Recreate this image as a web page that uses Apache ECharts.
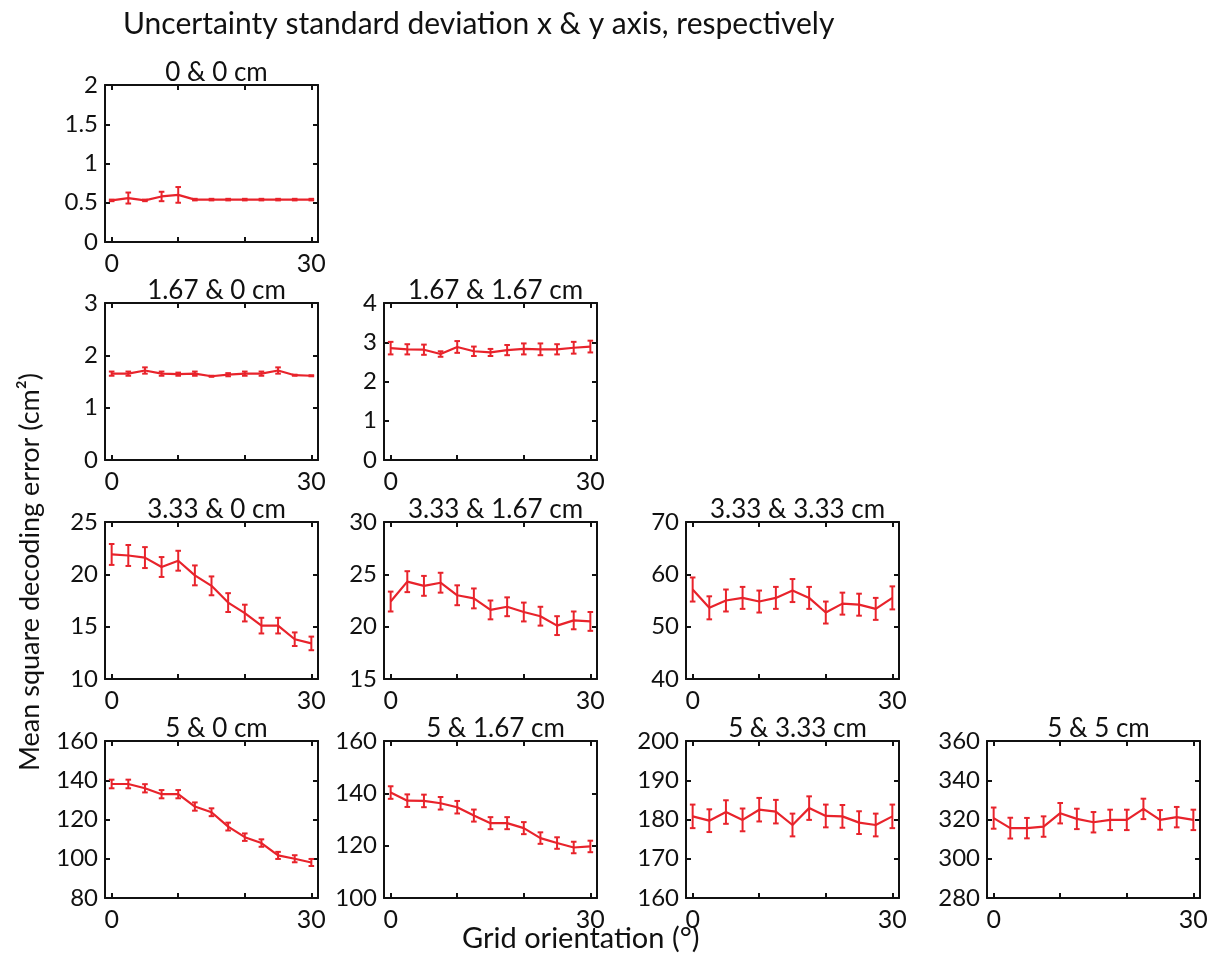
<!DOCTYPE html>
<html>
<head>
<meta charset="utf-8">
<script src="https://cdn.jsdelivr.net/npm/echarts@6/dist/echarts.min.js"></script>
<style>
html,body{margin:0;padding:0;background:#fff;}
#chart{width:1218px;height:978px;}
</style>
</head>
<body>
<div id="chart"></div>
<script>
// ---- Data ----
const orientations = [0, 2.5, 5, 7.5, 10, 12.5, 15, 17.5, 20, 22.5, 25, 27.5, 30];
const xTickValues = [0, 10, 20, 30];
const xTickLabels = [0, 30];

const panelTitles = ['0 & 0 cm', '1.67 & 0 cm', '1.67 & 1.67 cm', '3.33 & 0 cm', '3.33 & 1.67 cm',
  '3.33 & 3.33 cm', '5 & 0 cm', '5 & 1.67 cm', '5 & 3.33 cm', '5 & 5 cm'];

const mean_0_0 = [0.53, 0.56, 0.53, 0.58, 0.60, 0.54, 0.54, 0.54, 0.54, 0.54, 0.54, 0.54, 0.54];
const err_0_0  = [0.01, 0.07, 0.01, 0.06, 0.10, 0.01, 0.01, 0.01, 0.01, 0.01, 0.01, 0.01, 0.01];

const mean_167_0 = [1.65, 1.65, 1.71, 1.65, 1.64, 1.65, 1.60, 1.63, 1.65, 1.65, 1.71, 1.62, 1.61];
const err_167_0  = [0.04, 0.04, 0.06, 0.04, 0.03, 0.04, 0.01, 0.03, 0.04, 0.04, 0.06, 0.01, 0.01];

const mean_167_167 = [2.85, 2.82, 2.81, 2.70, 2.88, 2.77, 2.74, 2.80, 2.83, 2.82, 2.82, 2.86, 2.89];
const err_167_167  = [0.16, 0.13, 0.13, 0.07, 0.15, 0.12, 0.09, 0.13, 0.14, 0.15, 0.13, 0.15, 0.15];

const mean_333_0 = [21.9, 21.8, 21.6, 20.7, 21.3, 19.9, 18.9, 17.3, 16.3, 15.1, 15.1, 13.8, 13.4];
const err_333_0  = [1.0, 1.0, 1.0, 0.95, 0.95, 0.95, 0.9, 0.9, 0.8, 0.75, 0.75, 0.65, 0.65];

const mean_333_167 = [22.4, 24.3, 23.9, 24.2, 23.0, 22.7, 21.6, 21.9, 21.4, 21.0, 20.1, 20.6, 20.5];
const err_333_167  = [0.95, 1.0, 0.95, 0.95, 0.95, 0.95, 0.9, 0.9, 0.9, 0.9, 0.9, 0.85, 0.9];

const mean_333_333 = [57.1, 53.6, 55.0, 55.5, 54.8, 55.5, 56.9, 55.5, 52.7, 54.4, 54.2, 53.4, 55.5];
const err_333_333  = [2.3, 2.2, 2.1, 2.1, 2.1, 2.1, 2.2, 2.1, 2.1, 2.1, 2.1, 2.1, 2.2];

const mean_5_0 = [138.1, 138.1, 135.9, 132.9, 132.9, 126.6, 123.7, 116.4, 111.0, 108.0, 101.7, 100.0, 98.1];
const err_5_0  = [2.2, 2.2, 2.1, 2.1, 2.1, 2.1, 2.0, 2.0, 1.9, 1.9, 1.8, 1.8, 1.8];

const mean_5_167 = [140.3, 137.2, 137.1, 136.2, 134.7, 131.5, 128.6, 128.6, 126.7, 122.9, 121.0, 119.3, 119.7];
const err_5_167  = [2.4, 2.4, 2.4, 2.4, 2.4, 2.3, 2.3, 2.3, 2.3, 2.2, 2.2, 2.2, 2.2];

const mean_5_333 = [180.8, 179.7, 181.9, 179.9, 182.5, 182.0, 178.6, 182.9, 180.9, 180.8, 179.2, 178.6, 180.8];
const err_5_333  = [3.0, 2.9, 3.0, 2.9, 3.0, 3.0, 2.9, 3.0, 2.9, 2.9, 2.9, 2.9, 3.0];

const mean_5_5 = [320.7, 315.6, 315.6, 316.4, 323.2, 320.3, 318.6, 319.8, 319.8, 325.4, 319.8, 321.2, 319.8];
const err_5_5  = [5.4, 5.3, 5.2, 5.2, 5.2, 5.2, 5.2, 5.2, 5.2, 5.2, 5.0, 5.2, 5.2];

// y axis ranges per panel: [min, max, interval]
const yRanges = [
  [0, 2, 0.5], [0, 3, 1], [0, 4, 1], [10, 25, 5], [15, 30, 5],
  [40, 70, 10], [80, 160, 20], [100, 160, 20], [160, 200, 10], [280, 360, 20]
];
const panelMeans = [mean_0_0, mean_167_0, mean_167_167, mean_333_0, mean_333_167,
  mean_333_333, mean_5_0, mean_5_167, mean_5_333, mean_5_5];
const panelErrs = [err_0_0, err_167_0, err_167_167, err_333_0, err_333_167,
  err_333_333, err_5_0, err_5_167, err_5_333, err_5_5];

// ---- Layout ----
const colLeft = [105, 384, 686, 987];
const rowTop = [85, 303, 522, 741];
const panelPos = [[0,0],[1,0],[1,1],[2,0],[2,1],[2,2],[3,0],[3,1],[3,2],[3,3]]; // [row, col]
const W = 213, H = 157;
const RED = '#e8232b';
const FONT = 'Lato, "Open Sans", sans-serif';

const grids = [], xAxes = [], yAxes = [], series = [], titles = [];

panelPos.forEach(([r, c], i) => {
  const left = colLeft[c], top = rowTop[r];
  grids.push({left: left, top: top, width: W, height: H, show: false, containLabel: false});
  const axLine = {show: true, onZero: false, lineStyle: {color: '#111', width: 2}};
  const tick = {show: true, inside: true, length: 5, lineStyle: {color: '#111', width: 2}};
  // bottom x
  xAxes.push({
    type: 'value', gridIndex: i, min: -1, max: 31, position: 'bottom',
    axisLine: axLine, splitLine: {show: false},
    axisTick: Object.assign({customValues: xTickValues}, tick),
    axisLabel: {customValues: xTickLabels, fontSize: 25, color: '#111', fontFamily: FONT, margin: 9}
  });
  // top x
  xAxes.push({
    type: 'value', gridIndex: i, min: -1, max: 31, position: 'top',
    axisLine: axLine, splitLine: {show: false},
    axisTick: Object.assign({customValues: xTickValues}, tick),
    axisLabel: {show: false}
  });
  const [ymin, ymax, yint] = yRanges[i];
  yAxes.push({
    type: 'value', gridIndex: i, min: ymin, max: ymax, interval: yint, position: 'left',
    axisLine: axLine, splitLine: {show: false}, axisTick: tick,
    axisLabel: {fontSize: 24, color: '#111', fontFamily: FONT, margin: 7}
  });
  yAxes.push({
    type: 'value', gridIndex: i, min: ymin, max: ymax, interval: yint, position: 'right',
    axisLine: axLine, splitLine: {show: false}, axisTick: tick,
    axisLabel: {show: false}
  });
  const means = panelMeans[i], errs = panelErrs[i];
  series.push({
    type: 'line', xAxisIndex: 2 * i, yAxisIndex: 2 * i,
    data: orientations.map((x, k) => [x, means[k]]),
    symbol: 'none', lineStyle: {color: RED, width: 2.2}, silent: true, animation: false, z: 3
  });
  series.push({
    type: 'custom', xAxisIndex: 2 * i, yAxisIndex: 2 * i,
    data: orientations.map((x, k) => [x, means[k], errs[k]]),
    animation: false, silent: true, z: 4,
    renderItem: function (params, api) {
      const x = api.value(0), y = api.value(1), e = api.value(2);
      const hi = api.coord([x, y + e]);
      const lo = api.coord([x, y - e]);
      const hw = 2.8;
      const st = {stroke: RED, lineWidth: 2};
      return {type: 'group', children: [
        {type: 'line', shape: {x1: hi[0], y1: hi[1], x2: lo[0], y2: lo[1]}, style: st},
        {type: 'line', shape: {x1: hi[0] - hw, y1: hi[1], x2: hi[0] + hw, y2: hi[1]}, style: st},
        {type: 'line', shape: {x1: lo[0] - hw, y1: lo[1], x2: lo[0] + hw, y2: lo[1]}, style: st}
      ]};
    }
  });
  titles.push({
    text: panelTitles[i], left: left + W / 2, top: top - 30, textAlign: 'center',
    textStyle: {fontSize: 26, fontWeight: 'normal', color: '#111', fontFamily: FONT}
  });
});

titles.push({
  text: 'Uncertainty standard deviation x & y axis, respectively', left: 118, top: 4,
  textStyle: {fontSize: 30, fontWeight: 'normal', color: '#111', fontFamily: FONT}
});

const chart = echarts.init(document.getElementById('chart'), null, {renderer: 'canvas'});
chart.setOption({
  backgroundColor: '#fff',
  animation: false,
  title: titles,
  grid: grids,
  xAxis: xAxes,
  yAxis: yAxes,
  series: series,
  graphic: [
    {type: 'text', left: 462, top: 924,
      style: {text: 'Grid orientation (°)', fontSize: 29, fill: '#111', fontFamily: FONT}},
    {type: 'text', x: 44, y: 572, rotation: Math.PI / 2, originX: 0, originY: 0,
      style: {text: 'Mean square decoding error (cm²)', fontSize: 27, fill: '#111', fontFamily: FONT,
        align: 'center', verticalAlign: 'bottom'}}
  ]
});
</script>
</body>
</html>
